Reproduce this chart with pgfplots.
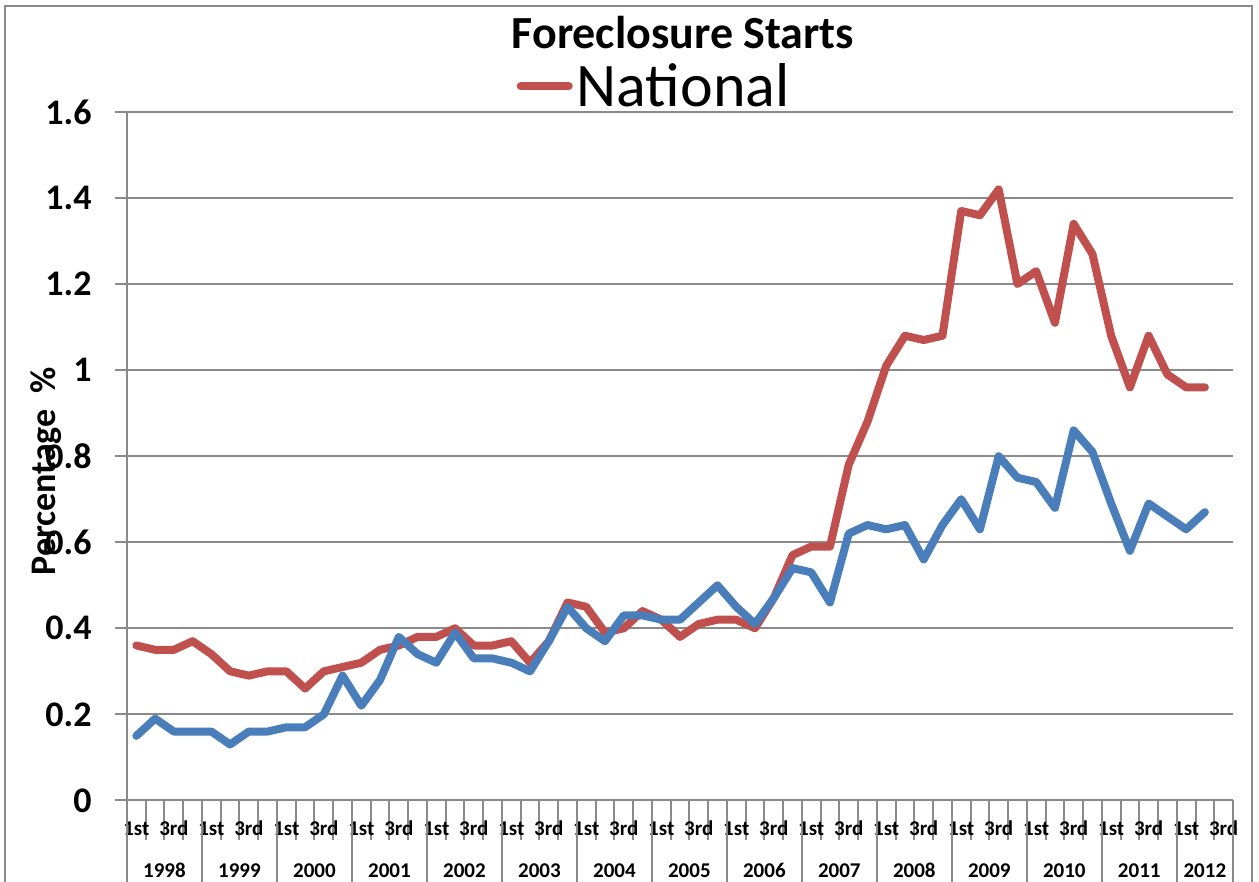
\documentclass[border=0pt]{standalone}
\usepackage{pgfplots}
\usepackage{pgfplotstable}
\pgfplotsset{compat=1.18}
\usepackage{fontspec}
\setmainfont{Carlito}
\definecolor{natred}{HTML}{C0504D}
\definecolor{othblue}{HTML}{4A7EBB}
\definecolor{gridgray}{HTML}{8A8A8A}

\pgfplotstableread{
x    national other
0.5  0.36 0.15
1.5  0.35 0.19
2.5  0.35 0.16
3.5  0.37 0.16
4.5  0.34 0.16
5.5  0.30 0.13
6.5  0.29 0.16
7.5  0.30 0.16
8.5  0.30 0.17
9.5  0.26 0.17
10.5 0.30 0.20
11.5 0.31 0.29
12.5 0.32 0.22
13.5 0.35 0.28
14.5 0.36 0.38
15.5 0.38 0.34
16.5 0.38 0.32
17.5 0.40 0.39
18.5 0.36 0.33
19.5 0.36 0.33
20.5 0.37 0.32
21.5 0.32 0.30
22.5 0.37 0.37
23.5 0.46 0.45
24.5 0.45 0.40
25.5 0.39 0.37
26.5 0.40 0.43
27.5 0.44 0.43
28.5 0.42 0.42
29.5 0.38 0.42
30.5 0.41 0.46
31.5 0.42 0.50
32.5 0.42 0.45
33.5 0.40 0.41
34.5 0.47 0.47
35.5 0.57 0.54
36.5 0.59 0.53
37.5 0.59 0.46
38.5 0.78 0.62
39.5 0.88 0.64
40.5 1.01 0.63
41.5 1.08 0.64
42.5 1.07 0.56
43.5 1.08 0.64
44.5 1.37 0.70
45.5 1.36 0.63
46.5 1.42 0.80
47.5 1.20 0.75
48.5 1.23 0.74
49.5 1.11 0.68
50.5 1.34 0.86
51.5 1.27 0.81
52.5 1.08 0.69
53.5 0.96 0.58
54.5 1.08 0.69
55.5 0.99 0.66
56.5 0.96 0.63
57.5 0.96 0.67
}\datatable

\begin{document}
\begin{tikzpicture}
\useasboundingbox (0,0) rectangle (629.5pt,441pt);
% chart frame
\draw[gridgray, line width=1pt] (2.5pt,-1pt) -- (2.5pt,438pt) -- (626pt,438pt) -- (626pt,-1pt);
\begin{axis}[
  at={(63.5pt,40.8pt)}, anchor=south west,
  scale only axis, width=553pt, height=344.2pt,
  xmin=0, xmax=59, ymin=0, ymax=1.6,
  clip=false,
  axis lines*=left,
  axis line style={gridgray, line width=1pt},
  ymajorgrids,
  major grid style={gridgray, line width=1pt},
  ytick={0,0.2,0.4,0.6,0.8,1,1.2,1.4,1.6},
  ytick style={draw=none},
  tick align=outside,
  major tick length=0pt,
  minor tick length=20pt,
  xtick={0.5,2.5,...,58.5},
  xticklabels={1st,3rd,1st,3rd,1st,3rd,1st,3rd,1st,3rd,1st,3rd,1st,3rd,1st,3rd,1st,3rd,1st,3rd,1st,3rd,1st,3rd,1st,3rd,1st,3rd,1st,3rd},
  major x tick style={draw=none},
  minor xtick={0,1,...,59},
  minor x tick style={gridgray, line width=1pt},
  xticklabel style={font=\fontsize{10.5}{12}\selectfont\bfseries, anchor=base, yshift=-17.5pt, inner sep=0pt},
  extra x ticks={2,6,10,14,18,22,26,30,34,38,42,46,50,54,57.5},
  extra x tick labels={1998,1999,2000,2001,2002,2003,2004,2005,2006,2007,2008,2009,2010,2011,2012},
  extra x tick style={tick label style={yshift=-21pt}},
  yticklabel style={font=\fontsize{18}{18}\selectfont\bfseries, anchor=east, inner sep=0pt, xshift=-17.5pt},
  /pgf/number format/assume math mode=true,
  ylabel={Percentage\ \ \%},
  ylabel style={font=\fontsize{18}{18}\selectfont\bfseries, at={(axis description cs:-0.0732,0.4785)}, anchor=center},
  title={Foreclosure Starts},
  title style={font=\fontsize{23}{23}\selectfont\bfseries, at={(axis description cs:0.5027,1.0755)}, anchor=base},
  legend style={at={(axis description cs:0.352,1.0375)}, anchor=west, draw=none, fill=none, inner sep=0pt,
    font=\fontsize{31}{31}\selectfont\mdseries},
  legend image code/.code={\draw[#1, line cap=round] (0pt,0pt) -- (24pt,0pt);},
  line join=round,
]
\addplot[natred, line width=4pt, line cap=round] table[x=x, y=national] {\datatable};
\addlegendentry{National}
\addplot[othblue, line width=4pt, line cap=round, forget plot] table[x=x, y=other] {\datatable};
\pgfplotsinvokeforeach{0,0.2,0.4,0.6,0.8,1,1.2,1.4,1.6}{
  \draw[gridgray, line width=1pt] (axis cs:0,#1) -- ++(-6pt,0pt);
}
\pgfplotsinvokeforeach{0,4,8,12,16,20,24,28,32,36,40,44,48,52,56,59}{
  \draw[gridgray, line width=1pt] (axis cs:#1,0) -- ++(0pt,-42pt);
}
\end{axis}
\end{tikzpicture}
\end{document}
